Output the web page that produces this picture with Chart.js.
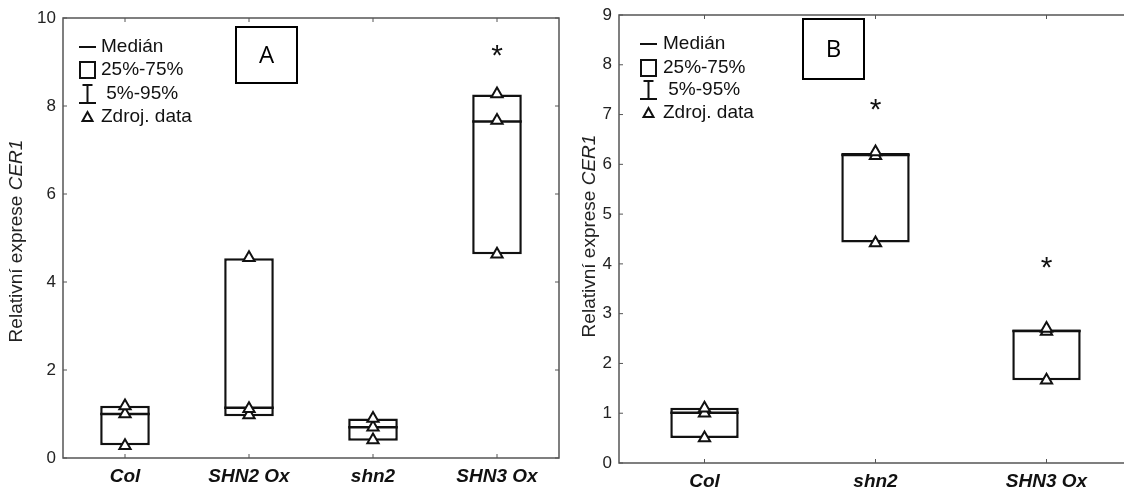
<!DOCTYPE html>
<html>
<head>
<meta charset="utf-8">
<script src="https://cdn.jsdelivr.net/npm/chart.js@4.4.1/dist/chart.umd.min.js"></script>
<style>
  html, body { margin: 0; padding: 0; background: #fff; overflow: hidden; width: 1124px; height: 488px; }
  .panel { position: absolute; top: 0; }
</style>
</head>
<body>
<div class="panel" style="left:0"><canvas id="chartA" width="570" height="488"></canvas></div>
<div class="panel" style="left:570px"><canvas id="chartB" width="580" height="488"></canvas></div>
<script>
// panel A
const catsA = ['Col', 'SHN2 Ox', 'shn2', 'SHN3 Ox'];
const q1A = [0.29, 0.95, 0.39, 4.63];
const q3A = [1.19, 4.54, 0.90, 8.26];
const medA = [1.00, 1.14, 0.70, 7.65];
const rawHiA = [1.18, 4.55, 0.90, 8.27];
const rawMidA = [1.00, 1.12, 0.70, 7.67];
const rawLoA = [0.28, 0.98, 0.41, 4.63];
const starA = [null, null, null, 9.2];
const ticksA = { min: 0, max: 10, step: 2 };

// panel B
const catsB = ['Col', 'shn2', 'SHN3 Ox'];
const q1B = [0.50, 4.43, 1.66];
const q3B = [1.11, 6.23, 2.68];
const medB = [1.01, 6.19, 2.65];
const rawHiB = [1.10, 6.25, 2.70];
const rawMidB = [1.00, 6.17, 2.64];
const rawLoB = [0.50, 4.42, 1.66];
const starB = [null, 7.16, 3.98];
const ticksB = { min: 0, max: 9, step: 1 };

const legendItems = ['Medián', '25%-75%', ' 5%-95%', 'Zdroj. data'];
const yTitle = ['Relativní exprese ', 'CER1'];

const SANS = "'Liberation Sans', Arial, sans-serif";
const BOX_FRAC = 0.4;

function halfBox(ctx) {
  const x = ctx.chart.scales.x;
  return x.width / x.getLabels().length * BOX_FRAC / 2;
}

// frame, inward ticks, legend, panel letter, y title, asterisks
const decor = {
  id: 'decor',
  afterDraw(chart, args, o) {
    const ctx = chart.ctx;
    const a = chart.chartArea;
    const x = chart.scales.x, y = chart.scales.y;
    ctx.save();
    ctx.strokeStyle = '#555';
    ctx.lineWidth = 1.5;
    ctx.strokeRect(a.left, a.top, a.right - a.left, a.bottom - a.top);
    ctx.lineWidth = 1;
    ctx.beginPath();
    y.ticks.forEach(t => {
      const py = y.getPixelForValue(t.value);
      ctx.moveTo(a.left, py); ctx.lineTo(a.left + 4, py);
      ctx.moveTo(a.right, py); ctx.lineTo(a.right - 4, py);
    });
    x.getLabels().forEach((l, i) => {
      const px = x.getPixelForValue(i);
      ctx.moveTo(px, a.top); ctx.lineTo(px, a.top + 4);
      ctx.moveTo(px, a.bottom); ctx.lineTo(px, a.bottom - 4);
    });
    ctx.stroke();

    // asterisks
    ctx.fillStyle = '#111';
    ctx.font = '30px ' + SANS;
    ctx.textAlign = 'center';
    ctx.textBaseline = 'alphabetic';
    o.stars.forEach((v, i) => {
      if (v == null) return;
      ctx.fillText('*', x.getPixelForValue(i), y.getPixelForValue(v) + 12);
    });

    // legend
    const L = o.legend;
    ctx.strokeStyle = '#111';
    ctx.lineWidth = 2;
    ctx.font = '19px ' + SANS;
    ctx.textAlign = 'left';
    ctx.textBaseline = 'middle';
    const sx = L.x, sw = 17;
    L.rows.forEach((ry, i) => {
      ctx.fillText(legendItems[i], L.tx, ry);
    });
    ctx.beginPath();
    ctx.moveTo(sx, L.rows[0]); ctx.lineTo(sx + sw, L.rows[0]);
    ctx.stroke();
    ctx.strokeRect(sx + 1, L.rows[1] - 8, sw - 2, 16);
    const cx = sx + sw / 2;
    ctx.beginPath();
    ctx.moveTo(cx - 5, L.rows[2] - 9); ctx.lineTo(cx + 5, L.rows[2] - 9);
    ctx.moveTo(cx, L.rows[2] - 9); ctx.lineTo(cx, L.rows[2] + 9);
    ctx.moveTo(sx, L.rows[2] + 9); ctx.lineTo(sx + sw, L.rows[2] + 9);
    ctx.stroke();
    ctx.beginPath();
    const ty = L.rows[3];
    ctx.moveTo(cx, ty - 5); ctx.lineTo(cx + 5, ty + 4); ctx.lineTo(cx - 5, ty + 4); ctx.closePath();
    ctx.stroke();

    // panel letter
    const B = o.letter;
    ctx.lineWidth = 2;
    ctx.strokeStyle = '#000';
    ctx.strokeRect(B.x, B.y, B.w, B.h);
    ctx.fillStyle = '#000';
    ctx.font = "24px 'Open Sans', sans-serif";
    ctx.textAlign = 'center';
    ctx.fillText(B.text, B.x + B.w / 2, B.y + B.h / 2 + 1);

    // y title
    ctx.translate(o.title.x, o.title.y);
    ctx.rotate(-Math.PI / 2);
    ctx.fillStyle = '#222';
    ctx.textAlign = 'left';
    ctx.font = '19px ' + SANS;
    const w1 = ctx.measureText(yTitle[0]).width;
    ctx.font = 'italic 19px ' + SANS;
    const w2 = ctx.measureText(yTitle[1]).width;
    const start = -(w1 + w2) / 2;
    ctx.font = '19px ' + SANS;
    ctx.fillText(yTitle[0], start, 0);
    ctx.font = 'italic 19px ' + SANS;
    ctx.fillText(yTitle[1], start + w1, 0);
    ctx.restore();
  }
};

function makeChart(id, cats, q1, q3, med, hi, mid, lo, tk, yWidth, xHeight, pad, tickPad, deco) {
  const tri = data => ({
    type: 'line', data: data, showLine: false, order: 1,
    pointStyle: 'triangle', pointRadius: 6.5, pointBorderWidth: 2,
    pointBackgroundColor: '#fff', pointBorderColor: '#111'
  });
  return new Chart(document.getElementById(id), {
    type: 'bar',
    data: {
      labels: cats,
      datasets: [
        tri(hi), tri(mid), tri(lo),
        {
          type: 'line', data: med, showLine: false, order: 2,
          pointStyle: 'line', pointRadius: halfBox, pointBorderWidth: 2.5,
          pointBorderColor: '#111'
        },
        {
          type: 'bar', order: 3,
          data: q1.map((v, i) => [v, q3[i]]),
          backgroundColor: '#fff', borderColor: '#111', borderWidth: 2.5,
          borderSkipped: false, barPercentage: BOX_FRAC, categoryPercentage: 1
        }
      ]
    },
    options: {
      responsive: false,
      animation: false,
      events: [],
      layout: { padding: pad },
      plugins: { legend: { display: false }, tooltip: { enabled: false }, decor: deco },
      scales: {
        x: {
          grid: { display: false, drawTicks: false }, border: { display: false },
          ticks: { padding: tickPad, color: '#111', font: { family: SANS, size: 19, style: 'italic', weight: 'bold' } },
          afterFit: s => { s.height = xHeight; s.paddingLeft = 0; s.paddingRight = 0; }
        },
        y: {
          min: tk.min, max: tk.max,
          grid: { display: false, drawTicks: false }, border: { display: false },
          ticks: { stepSize: tk.step, padding: 7, color: '#222', font: { family: SANS, size: 17 } },
          afterFit: s => { s.width = yWidth; s.paddingTop = 0; s.paddingBottom = 0; }
        }
      }
    },
    plugins: [decor]
  });
}

makeChart('chartA', catsA, q1A, q3A, medA, rawHiA, rawMidA, rawLoA, ticksA, 63, 30,
  { top: 18, right: 11, left: 0, bottom: 0 }, 7, {
    stars: starA,
    legend: { x: 79, tx: 101, rows: [47, 70, 94, 117] },
    letter: { x: 236, y: 27, w: 61, h: 56, text: 'A' },
    title: { x: 17, y: 241 }
  });

makeChart('chartB', catsB, q1B, q3B, medB, rawHiB, rawMidB, rawLoB, ticksB, 49, 25,
  { top: 15, right: 18, left: 0, bottom: 0 }, 7, {
    stars: starB,
    legend: { x: 70, tx: 93, rows: [44, 68, 90, 113] },
    letter: { x: 233, y: 19, w: 61, h: 60, text: 'B' },
    title: { x: 20, y: 236 }
  });
</script>
</body>
</html>
